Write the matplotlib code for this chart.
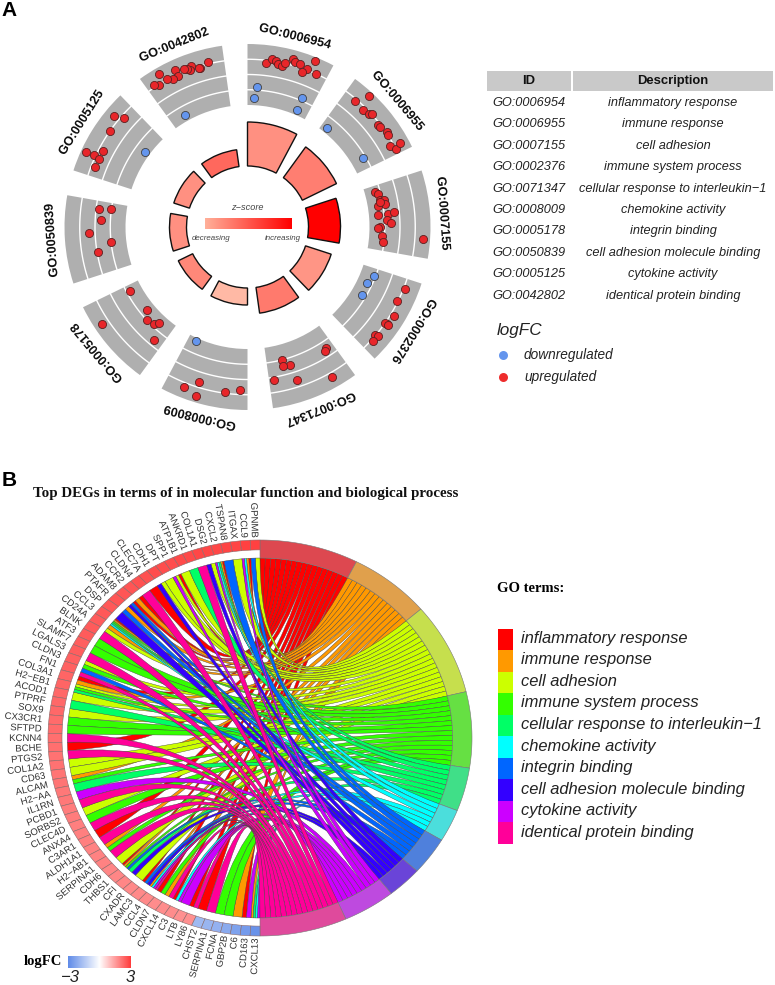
import numpy as np
import matplotlib
matplotlib.use('Agg')
import matplotlib.pyplot as plt
import matplotlib.patheffects as pe
from matplotlib.colors import LinearSegmentedColormap, Normalize
from matplotlib.patches import PathPatch, Polygon, Rectangle
from matplotlib.path import Path

plt.rcParams['font.family'] = 'Liberation Sans'
plt.rcParams['axes.unicode_minus'] = True

# Panel A data
go_ids = ['GO:0006954', 'GO:0006955', 'GO:0007155', 'GO:0002376', 'GO:0071347',
          'GO:0008009', 'GO:0005178', 'GO:0050839', 'GO:0005125', 'GO:0042802']
go_names = ['inflammatory response', 'immune response', 'cell adhesion', 'immune system process',
            'cellular response to interleukin\u22121', 'chemokine activity', 'integrin binding',
            'cell adhesion molecule binding', 'cytokine activity', 'identical protein binding']
z_scores = [2.2, 2.6, 5.4, 2.1, 2.7, 1.3, 2.4, 2.2, 2.2, 3.1]
bar_heights = [44, 38, 32, 27, 26, 17, 16, 17, 16.5, 17]

# position inside each sector (degrees) and logFC-axis reading of each gene
up_pos = [
    [6.6, 8.2, 9.6, 10.5, 12.2, 12.9, 15.1, 16.1, 17.9, 20.5, 19.5, 22.1, 24.0],
    [6.7, 4.4, 8.5, 10.9, 11.8, 16.0, 17.0, 19.7, 20.8, 24.4, 26.2, 25.1],
    [2.8, 4.0, 6.6, 6.9, 8.6, 9.0, 7.3, 12.9, 12.6, 12.3, 15.3, 16.4, 18.0, 18.3, 22.0, 24.5, 21.9],
    [3.5, 8.3, 13.4, 16.7, 16.9, 17.0, 22.1, 21.8, 24.3],
    [2.9, 4.2, 21.5, 18.9, 21.6, 26.0, 18.1, 6.4],
    [17.2, 21.5, 16.8, 7.9, 2.5],
    [25.3, 14.4, 11.1, 8.0, 6.6, 3.6, 20.1],
    [25.0, 25.7, 20.7, 16.0, 11.7, 8.5],
    [21.7, 23.5, 16.9, 7.0, 7.2, 9.8, 6.7, 3.5],
    [22.4, 19.4, 18.9, 16.6, 15.9, 15.2, 14.0, 11.3, 11.2, 9.3, 7.4, 6.0, 4.1, 2.6],
]
up_val = [
    [0.83, 1.13, 1.04, 0.89, 0.80, 1.04, 1.41, 1.26, 1.22, 1.09, 0.78, 1.72, 0.98],
    [1.70, 0.83, 0.80, 0.87, 1.00, 0.85, 0.89, 1.07, 1.00, 0.76, 1.02, 1.39],
    [-1.37, -1.17, -1.17, -0.89, -0.89, -1.33, -1.13, -1.41, -0.74, -0.33, -0.85, -0.59, -1.28, -1.43, -1.13, -1.07, 1.52],
    [1.09, 0.91, 1.22, 1.13, 1.00, 1.22, 0.96, 1.17, 1.15],
    [-0.54, -0.41, -1.02, -0.54, -0.57, 0.17, 0.52, 1.28],
    [0.67, 1.30, 1.61, 0.93, 0.67],
    [-1.22, -1.43, -1.02, -1.17, -1.46, -0.39, 1.46],
    [-0.22, -0.96, -0.37, 0.43, -1.02, -0.04],
    [1.37, 0.83, 1.00, 1.65, 1.13, 0.74, 0.72, 0.74],
    [1.15, 0.89, 0.91, 1.20, 0.93, 1.11, 1.20, 1.30, 0.89, 0.85, 1.09, 1.61, 0.96, 1.13],
]
down_pos = [[4.0, 2.8, 22.7, 22.9], [2.9, 23.1], [], [3.0, 7.0, 12.8], [], [24.2], [], [], [18.1], [6.9]]
down_val = [[-0.83, -1.50, -0.80, -1.65], [-1.67, -1.17], [], [-1.09, -1.35, -1.24], [], [-1.78], [], [],
            [-1.67], [-1.57]]

# Panel B data, genes from top (GPNMB) round to bottom (CXCL13)
genes = ['GPNMB', 'CCL9', 'ITGAX', 'TSPAN8', 'CXCL2', 'DSG2', 'COL1A1', 'ANKRD1', 'ATP1B1', 'SPP1',
         'DPT', 'CDH1', 'CLEC7A', 'CLDN4', 'CCR2', 'ADAM8', 'PTAFR', 'DSP', 'CCL3', 'CD24A',
         'BLNK', 'ATF3', 'SLAMF7', 'LGALS3', 'CLDN3', 'FN1', 'COL3A1', 'H2\u2212EB1', 'ACOD1', 'PTPRF',
         'SOX9', 'CX3CR1', 'SFTPD', 'KCNN4', 'BCHE', 'PTGS2', 'COL1A2', 'CD63', 'ALCAM', 'H2\u2212AA',
         'IL1RN', 'PCBD1', 'SORBS2', 'CLEC4D', 'ANXA4', 'C3AR1', 'ALDH1A1', 'H2\u2212AB1', 'SERPINA1', 'CDH6',
         'THBS1', 'CFI', 'CXADR', 'LAMC3', 'CCL4', 'CLDN7', 'CXCL14', 'C3', 'LTB', 'LY86',
         'CHST2', 'SERPINA1', 'FCNA', 'GBP2B', 'C6', 'CD163', 'CXCL13']
gene_logfc = [2.9, 2.9, 2.85, 2.85, 2.8, 2.8, 2.8, 2.75, 2.75, 2.7,
              2.7, 2.7, 2.65, 2.65, 2.6, 2.6, 2.6, 2.55, 2.55, 2.5,
              2.5, 2.5, 2.45, 2.45, 2.4, 2.4, 2.35, 2.35, 2.3, 2.3,
              2.3, 2.25, 2.25, 2.2, 2.2, 2.15, 2.15, 2.1, 2.1, 2.05,
              2.05, 2.0, 2.0, 1.95, 1.95, 1.95, 1.9, 1.9, 1.9, 1.85,
              1.85, 1.85, 1.8, 1.8, 1.8, 1.75, 1.75, 1.75, 1.7, 1.7,
              -1.8, -1.9, -2.0, -2.2, -2.4, -2.6, -2.8]
# one letter per GO term: Red Orange Yellow Green Spring Cyan Blue Indigo Purple pinK
gene_terms = ['YB', 'ROCP', 'Y', 'B', 'ROSCP', 'YI', 'K', 'S', 'Y', 'RYP',
              'Y', 'YI', 'R', 'K', 'RO', 'RBI', 'OB', 'I', 'ROGSC', 'OY',
              'K', 'G', 'G', 'K', 'YG', 'BK', 'RO', 'YGS', 'Y', 'S',
              'Y', 'G', 'G', 'K', 'R', 'K', 'Y', 'Y', 'OG', 'S',
              'P', 'K', 'Y', 'G', 'K', 'R', 'K', 'OG', 'K', 'Y',
              'ROGB', 'SI', 'Y', 'RBI', 'OCPK', 'RG', 'OK', 'RCP', 'P', 'RK',
              'R', 'K', 'G', 'G', 'O', 'RP', 'OSCP']
term_letters = 'ROYGSCBIPK'
term_colors = ['#FF0000', '#FF9900', '#CCFF00', '#33FF00', '#00FF66',
               '#00FFFF', '#0066FF', '#3300FF', '#CC00FF', '#FF0099']
band_colors = ['#DD4850', '#E0A04C', '#C6DF4D', '#66E043', '#40DF88',
               '#4BDEDC', '#4F80DC', '#6A44D8', '#BE4ADF', '#DF4A9C']

W, H = 775, 985
fig = plt.figure(figsize=(W / 100, H / 100), dpi=100)


def px_axes(x0, y0, x1, y1, **kw):
    return fig.add_axes([x0 / W, 1 - y1 / H, (x1 - x0) / W, (y1 - y0) / H], **kw)


# page axes in pixels, for the table and the legends
page = px_axes(0, 0, W, H)
page.set_xlim(0, W)
page.set_ylim(H, 0)
page.axis('off')

page.text(9, 10, 'A', fontsize=15, fontweight='bold', ha='center', va='center')
page.text(9, 481, 'B', fontsize=15, fontweight='bold', ha='center', va='center')

# ---- Panel A circle ----
cx, cy, rmax = 247.5, 227, 205
ax = px_axes(cx - rmax, cy - rmax, cx + rmax, cy + rmax, projection='polar')
ax.set_theta_zero_location('N')
ax.set_theta_direction(-1)
ax.set_ylim(0, rmax)
ax.axis('off')
ax.patch.set_alpha(0)

span = 28
ring_base, ring_height = 122, 61
inner_r = 61
z_cmap = LinearSegmentedColormap.from_list('z', ['#FFB9A5', '#FF0000'])
z_norm = Normalize(min(z_scores), max(z_scores))


def ring_r(v):
    return ring_base + (np.asarray(v, dtype=float) + 2) / 4 * ring_height


for i in range(10):
    start = 36 * i
    ax.bar(np.radians(start), ring_height, width=np.radians(span), bottom=ring_base,
           align='edge', color='#AFAFAF', linewidth=0)
    ax.bar(np.radians(start), bar_heights[i], width=np.radians(span), bottom=inner_r,
           align='edge', color=z_cmap(z_norm(z_scores[i])), edgecolor='#111111', linewidth=1.0)
    theta = np.radians(np.linspace(start, start + span, 40))
    for level in [-1, 0, 1]:
        ax.plot(theta, np.full(40, ring_r(level)), color='white', lw=1.0, zorder=2)
    ax.scatter(np.radians(start + np.array(up_pos[i])), ring_r(up_val[i]), s=34, color='#E8262A',
               edgecolors='#5A2020', linewidths=0.6, zorder=3, clip_on=False)
    if down_pos[i]:
        ax.scatter(np.radians(start + np.array(down_pos[i])), ring_r(down_val[i]), s=34, color='#6495ED',
                   edgecolors='#404040', linewidths=0.6, zorder=3, clip_on=False)
    mid = start + span / 2
    ax.text(np.radians(mid), 196, go_ids[i], fontsize=9.2, fontweight='bold', color='#111111',
            rotation=-mid, rotation_mode='anchor', ha='center', va='center', path_effects=[pe.Normal()])

# z-score key in the middle of the circle
key = px_axes(205.5, 218, 291.5, 229)
key.imshow(np.linspace(0, 1, 256).reshape(1, -1), aspect='auto',
           cmap=LinearSegmentedColormap.from_list('k', ['#FFB09A', '#FF0000']))
key.axis('off')
page.text(247, 207.5, 'z\u2212score', fontsize=6.6, style='italic', color='#444444', ha='center', va='center')
page.text(211, 238, 'decreasing', fontsize=5.7, style='italic', color='#444444', ha='center', va='center')
page.text(283, 238, 'increasing', fontsize=5.7, style='italic', color='#444444', ha='center', va='center')

# ---- Panel A table ----
page.add_patch(Rectangle((487, 71), 84, 20, color='#C9C9C9', lw=0))
page.add_patch(Rectangle((573, 71), 200, 20, color='#C9C9C9', lw=0))
page.text(529, 81, 'ID', fontsize=9.4, fontweight='bold', ha='center', va='center', color='#111111')
page.text(673, 81, 'Description', fontsize=9.4, fontweight='bold', ha='center', va='center', color='#111111')
for i in range(10):
    row_y = 103 + i * 21.4
    page.text(529, row_y, go_ids[i], fontsize=9.2, style='italic', ha='center', va='center', color='#222222')
    page.text(673, row_y, go_names[i], fontsize=9.2, style='italic', ha='center', va='center', color='#222222')

page.text(497, 331, 'logFC', fontsize=12.3, style='italic', ha='left', va='center', color='#222222')
page.scatter([503], [355], s=42, color='#6495ED', linewidths=0)
page.scatter([503], [377], s=42, color='#EE2C2C', linewidths=0)
page.text(524, 355, 'downregulated', fontsize=9.8, style='italic', ha='left', va='center', color='#222222')
page.text(524, 377, 'upregulated', fontsize=9.8, style='italic', ha='left', va='center', color='#222222')

# ---- Panel B chord ----
page.text(33, 494, 'Top DEGs in terms of in molecular function and biological process',
          family='Liberation Serif', fontsize=10.85, fontweight='bold', ha='left', va='center', color='#111111')

ccx, ccy, rx, ry = 260, 738, 212, 198
chord = px_axes(0, 525, 490, 955)
chord.set_xlim((0 - ccx) / rx, (490 - ccx) / rx)
chord.set_ylim((ccy - 955) / ry, (ccy - 525) / ry)
chord.axis('off')
chord.patch.set_alpha(0)

rib_r, band_in = 0.909, 0.909
cell_in_x, cell_in_y = 0.934, 0.95


def term_xy(t, r):
    t = np.radians(t)
    return np.column_stack([r * np.sin(t), r * np.cos(t)])


def gene_xy(t, rad_x, rad_y=None):
    t = np.radians(t)
    return np.column_stack([-rad_x * np.sin(t), (rad_x if rad_y is None else rad_y) * np.cos(t)])


term_counts = [sum(term_letters[k] in g for g in gene_terms) for k in range(10)]
deg_per_link = 180 / sum(term_counts)
term_edges = np.concatenate([[0], np.cumsum(term_counts) * deg_per_link])
gene_step = 180 / len(genes)

# ribbons first, one term after the other so later terms lie on top
for k in range(10):
    link = 0
    for g, terms in enumerate(gene_terms):
        if term_letters[k] not in terms:
            continue
        a0 = term_edges[k] + link * deg_per_link
        a1 = a0 + deg_per_link
        link += 1
        slot = sorted(term_letters.index(c) for c in terms).index(k)
        g0 = (g + slot / len(terms)) * gene_step
        g1 = g0 + gene_step / len(terms)
        ta = term_xy(np.linspace(a0, a1, 6), rib_r)
        ga = gene_xy(np.linspace(g1, g0, 6), rib_r)
        verts = np.vstack([ta, [[0, 0]], ga, [[0, 0]], ta[:1]])
        codes = [Path.MOVETO] + [Path.LINETO] * 5 + [Path.CURVE3, Path.CURVE3] + [Path.LINETO] * 5 + \
                [Path.CURVE3, Path.CURVE3]
        chord.add_patch(PathPatch(Path(verts, codes), facecolor=term_colors[k], edgecolor='#444444',
                                  linewidth=0.3, zorder=2 + k * 0.01))

# term bands on the right
for k in range(10):
    t = np.linspace(term_edges[k], term_edges[k + 1], 30)
    pts = np.vstack([term_xy(t, 1.0), term_xy(t[::-1], band_in)])
    chord.add_patch(Polygon(pts, facecolor=band_colors[k], edgecolor='#777777', linewidth=0.4, zorder=3))

# gene cells and labels on the left
fc_cmap = LinearSegmentedColormap.from_list('fc', ['#5F8BE8', '#FFFFFF', '#FF3B3B'])
fc_norm = Normalize(-3, 3)
for g, name in enumerate(genes):
    t = np.linspace(g * gene_step, (g + 1) * gene_step, 6)
    pts = np.vstack([gene_xy(t, 1.0), gene_xy(t[::-1], cell_in_x, cell_in_y)])
    chord.add_patch(Polygon(pts, facecolor=fc_cmap(fc_norm(gene_logfc[g])), edgecolor='#8A6A6A',
                            linewidth=0.4, zorder=3))
    mid = (g + 0.5) * gene_step
    lx, ly = gene_xy(mid, 1.03, 1.012)[0]
    # drawn through a path effect so rotated glyphs are not snapped to whole pixels
    chord.text(lx, ly, name, fontsize=6.9, color='#333333', rotation=mid - 90, rotation_mode='anchor',
               ha='right', va='center', clip_on=False, path_effects=[pe.Normal()])

# logFC colour key
page.text(24, 962, 'logFC', family='Liberation Serif', fontsize=10.5, fontweight='bold', ha='left', va='center')
fc_key = px_axes(68, 956, 131, 968)
fc_key.imshow(np.linspace(0, 1, 256).reshape(1, -1), aspect='auto', cmap=fc_cmap)
fc_key.axis('off')
page.text(70, 978, '\u22123', fontsize=12, style='italic', ha='center', va='center', color='#222222')
page.text(130, 978, '3', fontsize=12, style='italic', ha='center', va='center', color='#222222')

# GO terms legend
page.text(497, 588, 'GO terms:', family='Liberation Serif', fontsize=10.5, fontweight='bold', ha='left', va='center')
legend_top = 628.5
legend_step = 21.55
for k in range(10):
    row_y = legend_top + k * legend_step
    page.add_patch(Rectangle((498, row_y), 15, legend_step, facecolor=term_colors[k], edgecolor='none'))
    page.text(521, row_y + legend_step / 2 - 1, go_names[k], fontsize=11.9, style='italic',
              ha='left', va='center', color='#222222')

fig.savefig('out.png', dpi=100)
